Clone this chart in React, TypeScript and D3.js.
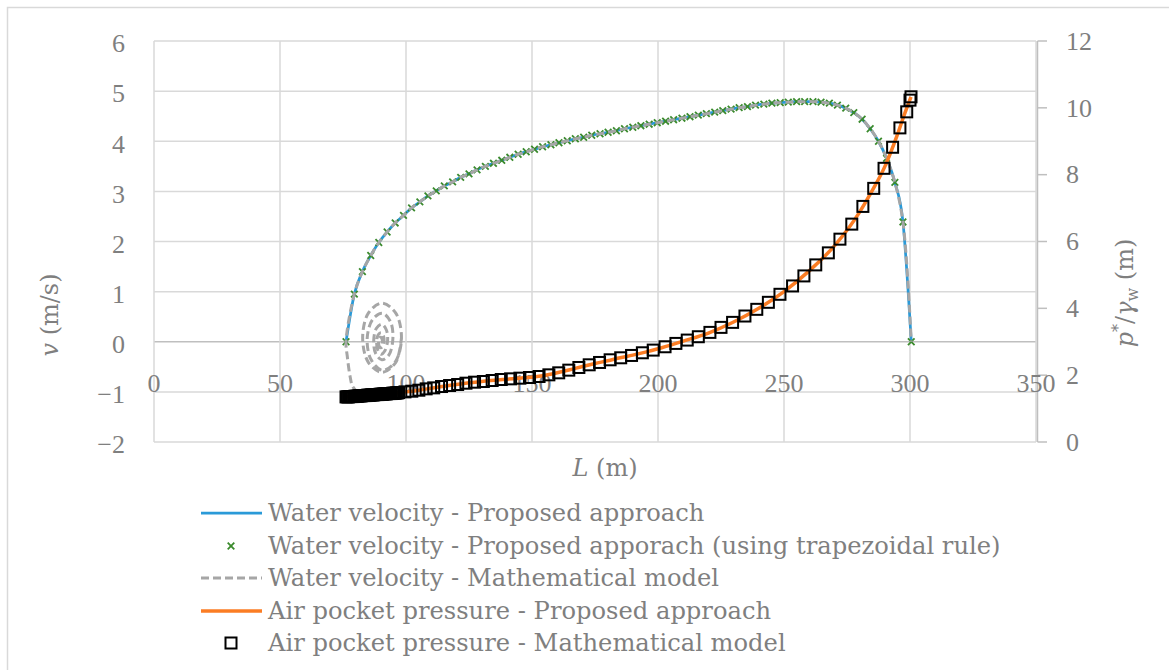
import React from 'react';
import * as d3 from 'd3';

// Axis ticks
const xTicks = [0, 50, 100, 150, 200, 250, 300, 350];
const vTicks = [-2, -1, 0, 1, 2, 3, 4, 5, 6];
const pTicks = [0, 2, 4, 6, 8, 10, 12];

// Water velocity (proposed approach and trapezoidal-rule solution coincide at this scale)
const velL = [76.2, 79.5, 82.7, 86.0, 89.2, 92.5, 95.7, 99.0, 102.2, 105.5, 108.7, 112.0, 115.2, 118.5, 121.7, 125.0, 128.2, 131.5, 134.7, 138.0, 141.2, 144.5, 147.7, 151.0, 154.2, 157.5, 160.7, 164.0, 167.2, 170.5, 173.7, 177.0, 180.2, 183.5, 186.7, 190.0, 193.2, 196.5, 199.7, 203.0, 206.2, 209.5, 212.7, 216.0, 219.2, 222.5, 225.7, 229.0, 232.2, 235.5, 238.7, 242.0, 245.2, 248.5, 251.7, 255.0, 258.2, 261.5, 264.7, 268.0, 271.2, 274.5, 277.7, 281.0, 284.2, 287.5, 290.7, 294.0, 297.2, 300.5];
const velV = [0, 0.95, 1.40, 1.72, 1.98, 2.19, 2.37, 2.52, 2.67, 2.79, 2.91, 3.01, 3.11, 3.19, 3.28, 3.35, 3.43, 3.50, 3.56, 3.62, 3.68, 3.74, 3.79, 3.84, 3.89, 3.93, 3.97, 4.01, 4.05, 4.08, 4.12, 4.15, 4.18, 4.21, 4.25, 4.28, 4.31, 4.34, 4.37, 4.40, 4.43, 4.46, 4.49, 4.52, 4.55, 4.58, 4.61, 4.64, 4.67, 4.69, 4.72, 4.74, 4.76, 4.77, 4.78, 4.79, 4.79, 4.79, 4.78, 4.76, 4.72, 4.66, 4.57, 4.44, 4.25, 4.00, 3.66, 3.18, 2.39, 0];

// Mathematical model: oscillation near L = 90 m before the filling run
const spiralL = [90.0, 90.6, 90.48, 90.0, 89.41, 89.1, 89.31, 90.0, 90.79, 91.3, 91.05, 90.1, 88.97, 88.35, 88.76, 90.1, 91.62, 92.7, 92.17, 90.4, 88.28, 87.2, 87.93, 90.4, 93.23, 94.8, 93.85, 90.6, 86.71, 84.6, 86.07, 90.6, 95.76, 98.2, 95.94, 90.5, 85.06, 82.8, 85.06, 90.5, 95.94, 98.2];
const spiralV = [0.0, 0.0, 0.057, 0.09, 0.07, 0.0, -0.08, -0.12, -0.09, 0.0, 0.12, 0.18, 0.14, 0.0, -0.16, -0.25, -0.18, 0.03, 0.24, 0.35, 0.27, 0.03, -0.23, -0.36, -0.26, 0.07, 0.40, 0.57, 0.44, 0.07, -0.35, -0.57, -0.40, 0.08, 0.57, 0.77, 0.57, 0.08, -0.41, -0.61, -0.41, 0.08];
// Mathematical model: approach to the start of the filling run
const modelLeadL = [81.0, 78.8, 77.8, 76.7];
const modelLeadV = [-1.02, -0.89, -0.69, -0.29];

// Air pocket pressure, proposed approach
const presL = [76.2, 80, 85, 90, 95, 100, 105, 110, 115, 120, 125, 130, 135, 140, 145, 150, 155, 160, 165, 170, 175, 180, 185, 190, 195, 200, 210, 220, 230, 240, 250, 260, 270, 280, 285, 290, 295, 298, 300.4];
const presP = [1.35, 1.37, 1.40, 1.43, 1.46, 1.50, 1.55, 1.61, 1.67, 1.72, 1.77, 1.81, 1.85, 1.88, 1.91, 1.94, 1.99, 2.07, 2.16, 2.26, 2.35, 2.43, 2.52, 2.60, 2.69, 2.79, 3.02, 3.26, 3.59, 4.00, 4.50, 5.12, 5.87, 6.88, 7.52, 8.24, 9.20, 9.85, 10.33];

// Air pocket pressure, mathematical model (time samples; dense while the column starts moving)
const modelPL = [
  76.2, 76.7, 77.2, 77.7, 78.2, 78.7, 79.2, 79.7, 80.2, 80.7, 81.2, 81.7, 82.2, 82.7, 83.2, 83.7, 84.2, 84.7, 85.2, 85.7, 86.2, 86.7, 87.2, 87.7, 88.2, 88.7, 89.2, 89.7, 90.2, 90.7, 91.2, 91.7, 92.2, 92.7, 93.2, 93.7, 94.2, 94.7, 95.2, 95.7, 96.2, 96.7, 97.1,
  99.6, 102.3, 105.1, 108.0, 111.0, 114.1, 117.3, 120.5, 123.8, 127.2, 130.7, 134.2, 137.8, 141.5, 145.2, 149.0, 152.8, 156.7, 160.6, 164.6, 168.6, 172.7, 176.8, 181.0, 185.2, 189.5, 193.8, 198.1, 202.8, 207.1, 211.6, 216.0, 220.6, 225.0, 229.6, 234.5, 239.2, 243.8, 248.4, 253.4, 257.9, 262.6, 267.6, 272.2, 276.9, 281.3, 285.6, 289.7, 293.1, 296.0, 298.7, 300.0, 300.4];
const modelPP = [
  1.35, 1.35, 1.35, 1.36, 1.36, 1.36, 1.36, 1.37, 1.37, 1.37, 1.38, 1.38, 1.38, 1.39, 1.39, 1.39, 1.39, 1.40, 1.40, 1.40, 1.41, 1.41, 1.41, 1.42, 1.42, 1.42, 1.42, 1.43, 1.43, 1.43, 1.44, 1.44, 1.44, 1.45, 1.45, 1.45, 1.45, 1.46, 1.46, 1.46, 1.47, 1.47, 1.48,
  1.50, 1.52, 1.55, 1.59, 1.62, 1.66, 1.69, 1.72, 1.76, 1.79, 1.81, 1.84, 1.87, 1.89, 1.91, 1.93, 1.96, 2.01, 2.07, 2.15, 2.23, 2.31, 2.38, 2.46, 2.52, 2.59, 2.67, 2.75, 2.85, 2.95, 3.05, 3.15, 3.28, 3.43, 3.58, 3.77, 3.97, 4.18, 4.42, 4.67, 4.97, 5.30, 5.66, 6.07, 6.52, 7.05, 7.59, 8.19, 8.82, 9.40, 9.88, 10.23, 10.33];

const legendItems = [
  'Water velocity - Proposed approach',
  'Water velocity - Proposed apporach (using trapezoidal rule)',
  'Water velocity - Mathematical model',
  'Air pocket pressure - Proposed approach',
  'Air pocket pressure - Mathematical model',
];

const TEXT = '#7f7f7f';
const GRID = '#d9d9d9';
const AXIS = '#bfbfbf';
const BLUE = '#2a9ad8';
const GREEN = '#3a8a2c';
const GRAY = '#a6a6a6';
const ORANGE = '#fb7d24';
const NUM_FONT = '"Liberation Serif", serif';
const LBL_FONT = '"DejaVu Serif", serif';

type Pt = [number, number];

export default function App() {
  const x = d3.scaleLinear().domain([0, 350]).range([154, 1036]);
  const yV = d3.scaleLinear().domain([-2, 6]).range([442, 41]);
  const yP = d3.scaleLinear().domain([0, 12]).range([442, 41]);

  const velPts: Pt[] = velL.map((l, i) => [l, velV[i]]);
  const spiralPts: Pt[] = spiralL.map((l, i) => [l, spiralV[i]]);
  const modelPts: Pt[] = modelLeadL.map((l, i) => [l, modelLeadV[i]] as Pt).concat(velPts);
  const presPts: Pt[] = presL.map((l, i) => [l, presP[i]]);
  const modelPPts: Pt[] = modelPL.map((l, i) => [l, modelPP[i]]);

  const velLine = d3.line<Pt>().x(d => x(d[0])).y(d => yV(d[1])).curve(d3.curveMonotoneX);
  const modelLine = d3.line<Pt>().x(d => x(d[0])).y(d => yV(d[1])).curve(d3.curveCatmullRom.alpha(0.5));
  const presLine = d3.line<Pt>().x(d => x(d[0])).y(d => yP(d[1])).curve(d3.curveMonotoneX);

  const legendY = [513, 546, 578, 611, 643];
  const cross = 'M-3.3,-3.3L3.3,3.3M-3.3,3.3L3.3,-3.3';

  return (
    <svg width={1169} height={670} style={{ position: 'absolute', left: 0, top: 0 }}>
      <rect x={0} y={0} width={1169} height={670} fill="#fff" />
      {/* chart frame */}
      <path d="M7.5,670V7.5H1169" fill="none" stroke={GRID} strokeWidth={1.5} />

      {/* gridlines */}
      {vTicks.map(t => (
        <line key={'hv' + t} x1={x(0)} x2={x(350)} y1={yV(t)} y2={yV(t)} stroke={t === 0 ? AXIS : GRID} strokeWidth={1.5} />
      ))}
      {xTicks.map(t => (
        <line key={'gx' + t} x1={x(t)} x2={x(t)} y1={yV(-2)} y2={yV(6)} stroke={GRID} strokeWidth={1.5} />
      ))}
      {/* secondary axis */}
      <line x1={x(350) + 1.5} x2={x(350) + 1.5} y1={yP(0)} y2={yP(12)} stroke={AXIS} strokeWidth={1.5} />
      {pTicks.map(t => (
        <line key={'pt' + t} x1={x(350) + 1.5} x2={x(350) + 11} y1={yP(t)} y2={yP(t)} stroke={AXIS} strokeWidth={1.5} />
      ))}

      {/* tick labels */}
      <g fontFamily={NUM_FONT} fontSize={26} fill={TEXT}>
        {vTicks.map(t => (
          <text key={'lv' + t} x={125} y={yV(t) + 11.3} textAnchor="end">{t < 0 ? '\u2212' + Math.abs(t) : t}</text>
        ))}
        {xTicks.map(t => (
          <text key={'lx' + t} x={x(t)} y={391.8} textAnchor="middle">{t}</text>
        ))}
        {pTicks.map(t => (
          <text key={'lp' + t} x={1066} y={yP(t) + 8.8}>{t}</text>
        ))}
      </g>

      {/* axis titles */}
      <g fontFamily={LBL_FONT} fontSize={24} fill={TEXT}>
        <text transform="translate(58,315) rotate(-90)" textAnchor="middle">
          <tspan fontStyle="italic">v</tspan> (m/s)
        </text>
        <text x={605} y={476} textAnchor="middle">
          <tspan fontStyle="italic">L</tspan> (m)
        </text>
        <text transform="translate(1133,293) rotate(-90)" textAnchor="middle">
          <tspan fontStyle="italic">p</tspan>
          <tspan fontSize={16} dy={-9}>*</tspan>
          <tspan dy={9}>/</tspan>
          <tspan fontStyle="italic">γ</tspan>
          <tspan fontSize={16} dy={5}>w</tspan>
          <tspan dy={-5}> (m)</tspan>
        </text>
      </g>

      {/* water velocity */}
      <path d={velLine(velPts) || ''} fill="none" stroke={BLUE} strokeWidth={2.75} />
      <g stroke={GREEN} strokeWidth={1.8} fill="none">
        {velPts.map((d, i) => (
          <path key={'m' + i} d={cross} transform={`translate(${x(d[0])},${yV(d[1])})`} />
        ))}
      </g>
      <path d={modelLine(spiralPts) || ''} fill="none" stroke={GRAY} strokeWidth={3} strokeDasharray="8,4" />
      <path d={modelLine(modelPts) || ''} fill="none" stroke={GRAY} strokeWidth={3} strokeDasharray="8,4" />

      {/* air pocket pressure */}
      <path d={presLine(presPts) || ''} fill="none" stroke={ORANGE} strokeWidth={3.5} />
      <g stroke="#000" strokeWidth={2} fill="none">
        {modelPPts.map((d, i) => (
          <rect key={'s' + i} x={x(d[0]) - 5.5} y={yP(d[1]) - 5.5} width={11} height={11} />
        ))}
      </g>

      {/* legend */}
      <g fontFamily={LBL_FONT} fontSize={24.2} fill={TEXT}>
        {legendItems.map((t, i) => (
          <text key={'lg' + i} x={268} y={legendY[i] + 8}>{t}</text>
        ))}
      </g>
      <line x1={201} x2={262} y1={legendY[0]} y2={legendY[0]} stroke={BLUE} strokeWidth={2.75} />
      <path d={cross} transform={`translate(231,${legendY[1]})`} stroke={GREEN} strokeWidth={1.8} fill="none" />
      <line x1={201} x2={262} y1={legendY[2]} y2={legendY[2]} stroke={GRAY} strokeWidth={3} strokeDasharray="8,4" />
      <line x1={201} x2={262} y1={legendY[3]} y2={legendY[3]} stroke={ORANGE} strokeWidth={3.5} />
      <rect x={225.5} y={legendY[4] - 5.5} width={11} height={11} stroke="#000" strokeWidth={2} fill="none" />
    </svg>
  );
}
